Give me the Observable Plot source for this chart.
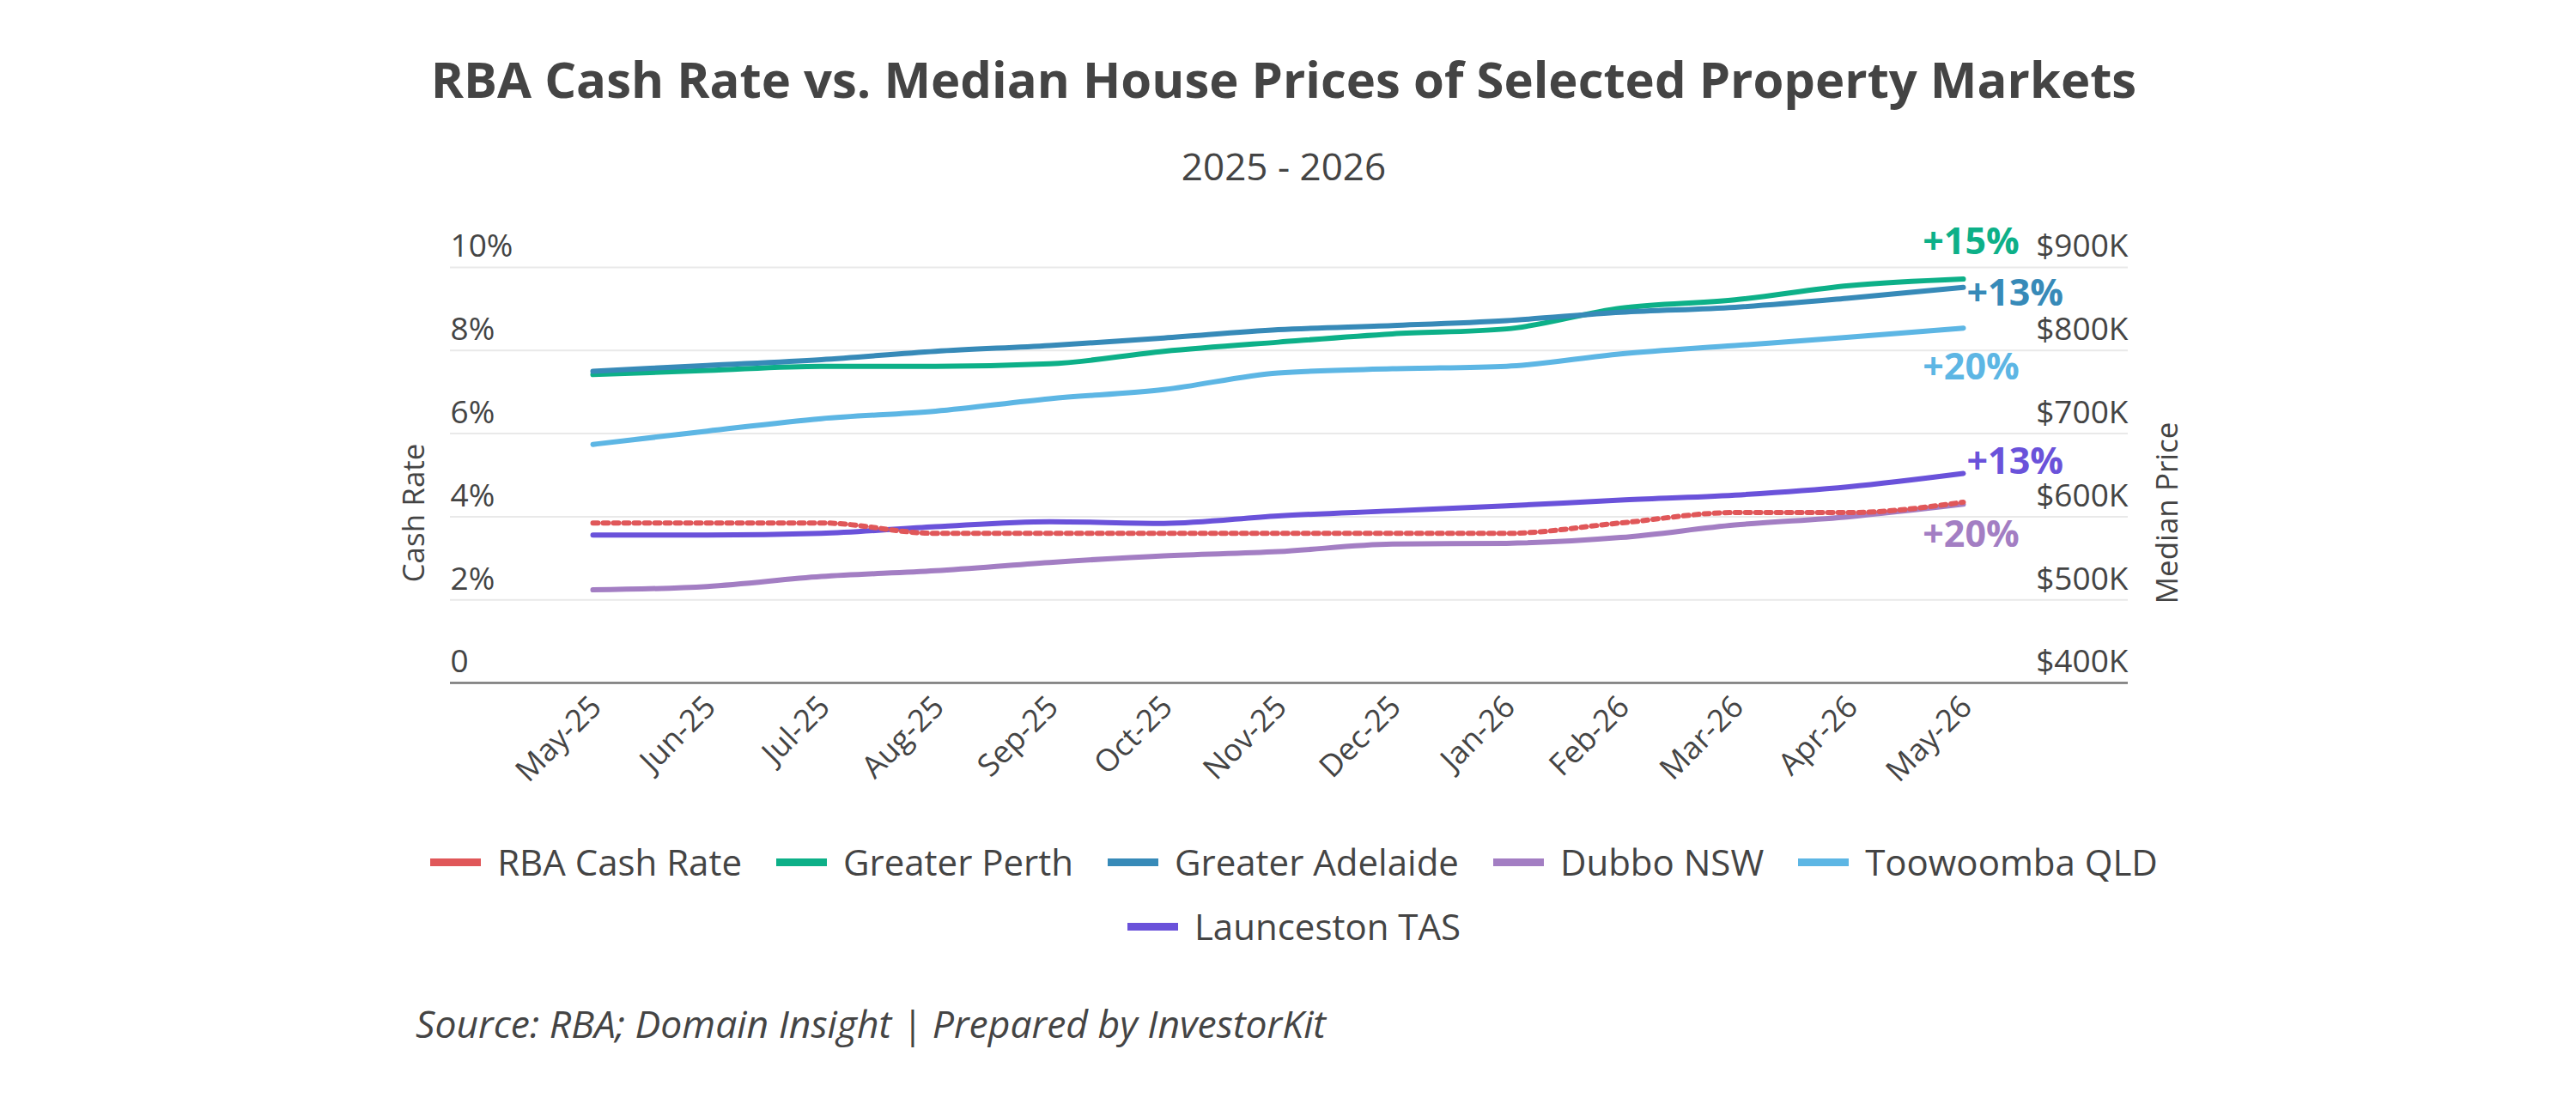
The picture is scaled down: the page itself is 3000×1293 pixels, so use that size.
<!DOCTYPE html>
<html><head><meta charset="utf-8">
<script src="https://cdn.jsdelivr.net/npm/d3@7"></script>
<script src="https://cdn.jsdelivr.net/npm/@observablehq/plot@0.6"></script>
<style>
html,body{margin:0;padding:0;background:#fff;}
body{width:3000px;height:1293px;position:relative;font-family:"Open Sans",sans-serif;color:#444;overflow:hidden;}
#title{position:absolute;left:0;width:2990px;top:63px;text-align:center;font-weight:700;font-size:58px;line-height:1;white-space:nowrap;}
#subtitle{position:absolute;left:0;width:2990px;top:171px;text-align:center;font-size:44px;line-height:1;}
#chart{position:absolute;left:0;top:240px;}
#legend{position:absolute;left:382px;width:2250px;top:977px;display:flex;flex-wrap:wrap;justify-content:center;column-gap:40px;row-gap:21px;font-size:42px;line-height:54px;}
#legend .item{display:flex;align-items:center;white-space:nowrap;}
#legend .sw{width:59px;height:9px;margin-right:19px;}
#source{position:absolute;left:484px;top:1170px;font-style:italic;font-size:44.5px;line-height:1;white-space:nowrap;}
</style></head><body>
<div id="title">RBA Cash Rate vs. Median House Prices of Selected Property Markets</div>
<div id="subtitle">2025 - 2026</div>
<div id="chart"></div>
<div id="legend"></div>
<div id="source">Source: RBA; Domain Insight | Prepared by InvestorKit</div>
<script>
const months = ["May-25","Jun-25","Jul-25","Aug-25","Sep-25","Oct-25","Nov-25","Dec-25","Jan-26","Feb-26","Mar-26","Apr-26","May-26"];
const rbaCashRate = [3.85,3.85,3.85,3.60,3.60,3.60,3.60,3.60,3.60,3.85,4.10,4.10,4.35];
const greaterPerth = [771,776,781,781,784,799,810,820,826,851,861,878,886];
const greaterAdelaide = [775,782,789,799,806,815,825,830,836,846,852,863,876];
const dubboNSW = [512,516,528,535,545,553,558,567,568,575,590,600,615];
const toowoombaQLD = [687,703,718,727,742,753,773,778,781,796,806,816,827];
const launcestonTAS = [578,578,580,588,594,592,601,607,613,620,626,636,652];
const seriesNames = ["RBA Cash Rate","Greater Perth","Greater Adelaide","Dubbo NSW","Toowoomba QLD","Launceston TAS"];
const seriesColors = ["#e05759","#0db088","#378ab8","#a37ec3","#5db6e4","#6a52da"];
const rateTicks = [0,2,4,6,8,10];
const priceTicks = [400,500,600,700,800,900];
const changeSeries = ["Greater Perth","Greater Adelaide","Toowoomba QLD","Launceston TAS","Dubbo NSW"];
const changeLabels = ["+15%","+13%","+20%","+13%","+20%"];

// right axis ($K) is aligned to left axis (%)
const priceToRate = p => rateTicks[0] + (p - priceTicks[0]) * (rateTicks[rateTicks.length-1] - rateTicks[0]) / (priceTicks[priceTicks.length-1] - priceTicks[0]);
const priceSeries = [greaterPerth, greaterAdelaide, dubboNSW, toowoombaQLD, launcestonTAS];
const priceRows = priceSeries.flatMap((arr, s) => arr.map((v, i) => ({month: months[i], series: seriesNames[s + 1], v: priceToRate(v)})));
const rbaRows = rbaCashRate.map((v, i) => ({month: months[i], series: seriesNames[0], v}));
const last = months.length - 1;
const lastValue = name => priceRows.find(r => r.series === name && r.month === months[last]).v;
const colorOf = name => seriesColors[seriesNames.indexOf(name)];

const placement = [
  {dx: 9, dy: -43, anchor: "middle"},
  {dx: 4, dy: 8, anchor: "start"},
  {dx: 9, dy: 46, anchor: "middle"},
  {dx: 4, dy: -13, anchor: "start"},
  {dx: 9, dy: 36, anchor: "middle"}
];
const annotationMarks = changeSeries.map((name, k) => Plot.text(
  [{month: months[last], v: lastValue(name), label: changeLabels[k]}],
  {x: "month", y: "v", text: "label", fill: colorOf(name), fontWeight: 700, fontSize: 43,
   dx: placement[k].dx, dy: placement[k].dy, textAnchor: placement[k].anchor}
));

const chart = Plot.plot({
  width: 3000, height: 720,
  marginLeft: 524, marginRight: 522, marginTop: 71, marginBottom: 165,
  style: {fontFamily: "Open Sans", color: "#444", background: "transparent", overflow: "visible"},
  x: {type: "point", domain: months, range: [684, 2291], padding: 0},
  y: {domain: [rateTicks[0], rateTicks[rateTicks.length - 1]]},
  color: {domain: seriesNames, range: seriesColors},
  marks: [
    Plot.gridY(rateTicks.slice(1), {stroke: "#e9e9e9", strokeOpacity: 1, strokeWidth: 2}),
    Plot.ruleY([0], {stroke: "#777", strokeWidth: 2.7}),
    Plot.axisY(rateTicks, {anchor: "left", tickSize: 0, tickPadding: 0, textAnchor: "start", dy: -24, fontSize: 37, color: "#444", label: null, tickFormat: d => d === 0 ? "0" : `${d}%`}),
    Plot.axisY(rateTicks, {anchor: "right", tickSize: 0, tickPadding: 0, textAnchor: "end", dy: -24, fontSize: 37, color: "#444", label: null, tickFormat: (d, i) => `$${priceTicks[i]}K`}),
    Plot.axisX({tickSize: 0, tickPadding: 22, dx: 4, tickRotate: -45, fontSize: 36, color: "#444", label: null}),
    Plot.line(priceRows, {x: "month", y: "v", z: "series", stroke: "series", strokeWidth: 6, curve: "monotone-x"}),
    Plot.line(rbaRows, {x: "month", y: "v", stroke: "series", strokeWidth: 6, strokeDasharray: "6,6", curve: "monotone-x"}),
    ...annotationMarks,
    Plot.text(["Cash Rate"], {frameAnchor: "left", textAnchor: "middle", rotate: -90, dx: -42, dy: 44, fontSize: 35, fill: "#444"}),
    Plot.text(["Median Price"], {frameAnchor: "right", textAnchor: "middle", rotate: -90, dx: 46, dy: 44, fontSize: 35, fill: "#444"})
  ]
});
document.getElementById("chart").appendChild(chart);

const legend = document.getElementById("legend");
seriesNames.forEach((name, i) => {
  const item = document.createElement("div");
  item.className = "item";
  const sw = document.createElement("div");
  sw.className = "sw";
  sw.style.background = seriesColors[i];
  const label = document.createElement("span");
  label.textContent = name;
  item.appendChild(sw);
  item.appendChild(label);
  legend.appendChild(item);
});
</script>
</body></html>
